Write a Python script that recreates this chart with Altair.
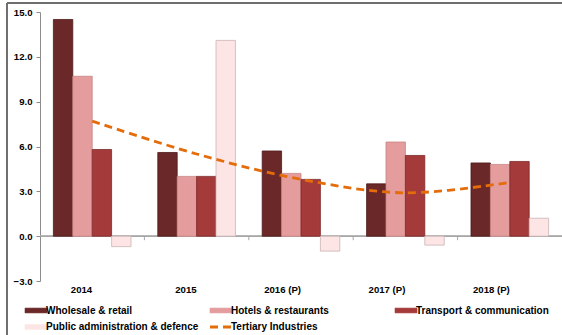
import altair as alt
import pandas as pd

# Growth rates (%) of tertiary sub-sectors by year
years = ["2014", "2015", "2016 (P)", "2017 (P)", "2018 (P)"]
wholesale = [14.5, 5.6, 5.7, 3.5, 4.9]
hotels = [10.7, 4.0, 4.2, 6.3, 4.8]
transport = [5.8, 4.0, 3.8, 5.4, 5.0]
public_admin = [-0.7, 13.1, -1.0, -0.6, 1.2]
tertiary = [7.7, 5.5, 3.8, 2.9, 3.6]

bar_series = [
    "Wholesale & retail",
    "Hotels & restaurants",
    "Transport & communication",
    "Public administration & defence",
]
line_series = "Tertiary Industries"
all_series = bar_series + [line_series]
fill_colors = ["#6B2828", "#E49C9C", "#A43A3A", "#FDE5E5", "#E46C0A"]
edge_colors = ["#4E1A1A", "#C98484", "#7E2A2A", "#C9B4B4"]

bars = pd.DataFrame(
    [
        {"year": y, "series": s, "value": v}
        for s, vals in zip(bar_series, [wholesale, hotels, transport, public_admin])
        for y, v in zip(years, vals)
    ]
)
line = pd.DataFrame({"year": years, "series": line_series, "value": tertiary})
boundaries = pd.DataFrame({"year": years[1:]})

W, H = 522, 269
FONT = "Liberation Sans"
FS = 9.6

x_scale = alt.Scale(domain=years, paddingInner=0, paddingOuter=0)
y_scale = alt.Scale(domain=[-3, 15], nice=False, zero=False)
color_scale = alt.Scale(domain=all_series, range=fill_colors)

IS_LINE = "datum.label === 'Tertiary Industries'"
legend = alt.Legend(
    title=None,
    orient="none",
    direction="horizontal",
    legendX=-9,
    legendY=293,
    columns=3,
    gridAlign="all",
    columnPadding=5,
    rowPadding=5,
    labelFont=FONT,
    labelFontSize=10,
    labelFontWeight="bold",
    labelColor="#000000",
    labelOffset=5,
    symbolSize=484,
    symbolOpacity=1,
    symbolType=alt.ExprRef(expr=f"{IS_LINE} ? 'M-1,0H1' : 'M-1,-0.22H1V0.22H-1Z'"),
    symbolDash=alt.ExprRef(expr=f"{IS_LINE} ? [8, 5] : [1, 0]"),
    symbolStrokeWidth=alt.ExprRef(expr=f"{IS_LINE} ? 2.8 : 0.6"),
)

bar_layer = alt.Chart(bars).mark_bar(strokeWidth=0.8).encode(
    x=alt.X(
        "year:N",
        scale=x_scale,
        sort=years,
        axis=alt.Axis(
            title=None,
            domain=False,
            ticks=False,
            labelAngle=0,
            labelFont=FONT,
            labelFontSize=FS,
            labelFontWeight="bold",
            labelColor="#000000",
            labelPadding=8,
        ),
    ),
    xOffset=alt.XOffset(
        "series:N", sort=bar_series, scale=alt.Scale(paddingInner=0, paddingOuter=0.69)
    ),
    y=alt.Y(
        "value:Q",
        scale=y_scale,
        axis=alt.Axis(
            title=None,
            values=[-3, 0, 3, 6, 9, 12, 15],
            format=".1f",
            grid=False,
            domainColor="#8C8C8C",
            tickColor="#8C8C8C",
            tickSize=4,
            labelPadding=4,
            labelFont=FONT,
            labelFontSize=FS,
            labelFontWeight="bold",
            labelColor="#000000",
        ),
    ),
    color=alt.Color("series:N", scale=color_scale, legend=legend),
    stroke=alt.Stroke(
        "series:N", scale=alt.Scale(domain=bar_series, range=edge_colors), legend=None
    ),
)

# horizontal zero line and category separators
zero_line = alt.Chart(boundaries).mark_rule(color="#A6A6A6", strokeWidth=1).encode(
    y=alt.datum(0), x=alt.value(0), x2=alt.value(W)
)
sep_ticks = alt.Chart(boundaries).mark_rule(color="#A6A6A6", strokeWidth=1).encode(
    x=alt.X("year:N", scale=x_scale, bandPosition=0),
    y=alt.datum(0),
    y2=alt.datum(-0.27),
)

trend = alt.Chart(line).mark_line(
    strokeDash=[8, 5], strokeWidth=2.8, interpolate="catmull-rom"
).encode(
    x=alt.X("year:N", scale=x_scale, sort=years),
    y=alt.Y("value:Q", scale=y_scale),
    color=alt.Color("series:N", scale=color_scale, legend=legend),
)

# outer frame edges
frame_top = alt.Chart(boundaries).mark_rule(color="#6E6E6E", strokeWidth=1.3).encode(
    x=alt.value(-33), x2=alt.value(W), y=alt.value(-9)
)
frame_left = alt.Chart(boundaries).mark_rule(color="#6E6E6E", strokeWidth=1.3).encode(
    x=alt.value(-33), y=alt.value(-9), y2=alt.value(H + 60)
)

chart = (
    alt.layer(zero_line, sep_ticks, bar_layer, trend, frame_top, frame_left)
    .properties(
        width=W,
        height=H,
        autosize=alt.AutoSizeParams(type="none"),
        padding={"left": 40, "top": 12, "right": 0, "bottom": 54},
        background="#FFFFFF",
    )
    .configure_view(stroke=None)
)

chart.save("out.html", embed_options={"renderer": "svg", "actions": False})
